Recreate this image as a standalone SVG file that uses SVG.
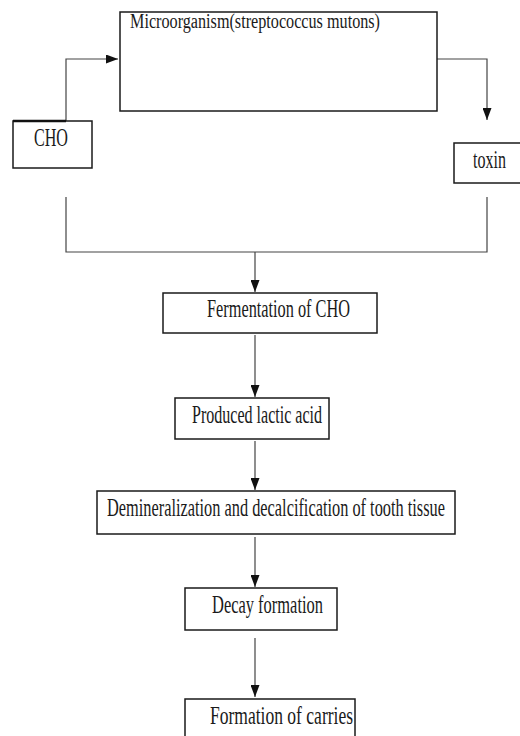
<svg xmlns="http://www.w3.org/2000/svg" width="520" height="736" viewBox="0 0 520 736">
<style>
.box{fill:#fff;stroke:#1a1a1a;stroke-width:1.5}
.t{font-family:'Liberation Serif','DejaVu Serif','Noto Serif',serif;fill:#1a1a1a;font-size:26px}
.c{fill:none;stroke:#444;stroke-width:1.2}
</style>
<defs>
<marker id="ah" markerUnits="userSpaceOnUse" markerWidth="13" markerHeight="9" refX="12" refY="4.5" orient="auto">
<path d="M0,0 L12,4.5 L0,9 z" fill="#111"/>
</marker>
</defs>
<rect width="520" height="736" fill="#fff"/>
<g id="connectors">
<path class="c" d="M66,121 V59 H118" marker-end="url(#ah)"/>
<path class="c" d="M437,59 H487 V120" marker-end="url(#ah)"/>
<path class="c" d="M66,197 V252 H487 V197"/>
<path class="c" d="M255,252 V292" marker-end="url(#ah)"/>
<path class="c" d="M255,335 V397" marker-end="url(#ah)"/>
<path class="c" d="M255,441 V490" marker-end="url(#ah)"/>
<path class="c" d="M255,537 V587" marker-end="url(#ah)"/>
<path class="c" d="M255,638 V697" marker-end="url(#ah)"/>
</g>
<g id="microorganism">
<rect class="box" x="120" y="12" width="317" height="99"/>
<text class="t" x="130" y="28" style="font-size:20px" textLength="250" lengthAdjust="spacingAndGlyphs">Microorganism(streptococcus mutons)</text>
</g>
<g id="cho">
<rect class="box" x="13" y="121" width="79" height="47"/>
<line x1="13" y1="121" x2="66" y2="121" stroke="#111" stroke-width="2.5"/>
<text class="t" x="34" y="146" textLength="34" lengthAdjust="spacingAndGlyphs">CHO</text>
</g>
<g id="toxin">
<rect class="box" x="454" y="143" width="80" height="40"/>
<text class="t" x="473" y="168" textLength="33" lengthAdjust="spacingAndGlyphs">toxin</text>
</g>
<g id="fermentation">
<rect class="box" x="163" y="293" width="214" height="40"/>
<text class="t" x="207" y="317" textLength="143" lengthAdjust="spacingAndGlyphs">Fermentation of CHO</text>
</g>
<g id="lactic">
<rect class="box" x="175" y="398" width="154" height="41"/>
<text class="t" x="192" y="423" textLength="130" lengthAdjust="spacingAndGlyphs">Produced lactic acid</text>
</g>
<g id="demineralization">
<rect class="box" x="97" y="491" width="358" height="43"/>
<text class="t" x="107" y="516" textLength="338" lengthAdjust="spacingAndGlyphs">Demineralization and decalcification of tooth tissue</text>
</g>
<g id="decay">
<rect class="box" x="185" y="588" width="152" height="42"/>
<text class="t" x="212" y="613" textLength="111" lengthAdjust="spacingAndGlyphs">Decay formation</text>
</g>
<g id="carries">
<rect class="box" x="185" y="699" width="170" height="50"/>
<text class="t" x="210" y="724" textLength="143" lengthAdjust="spacingAndGlyphs">Formation of carries</text>
</g>
</svg>
